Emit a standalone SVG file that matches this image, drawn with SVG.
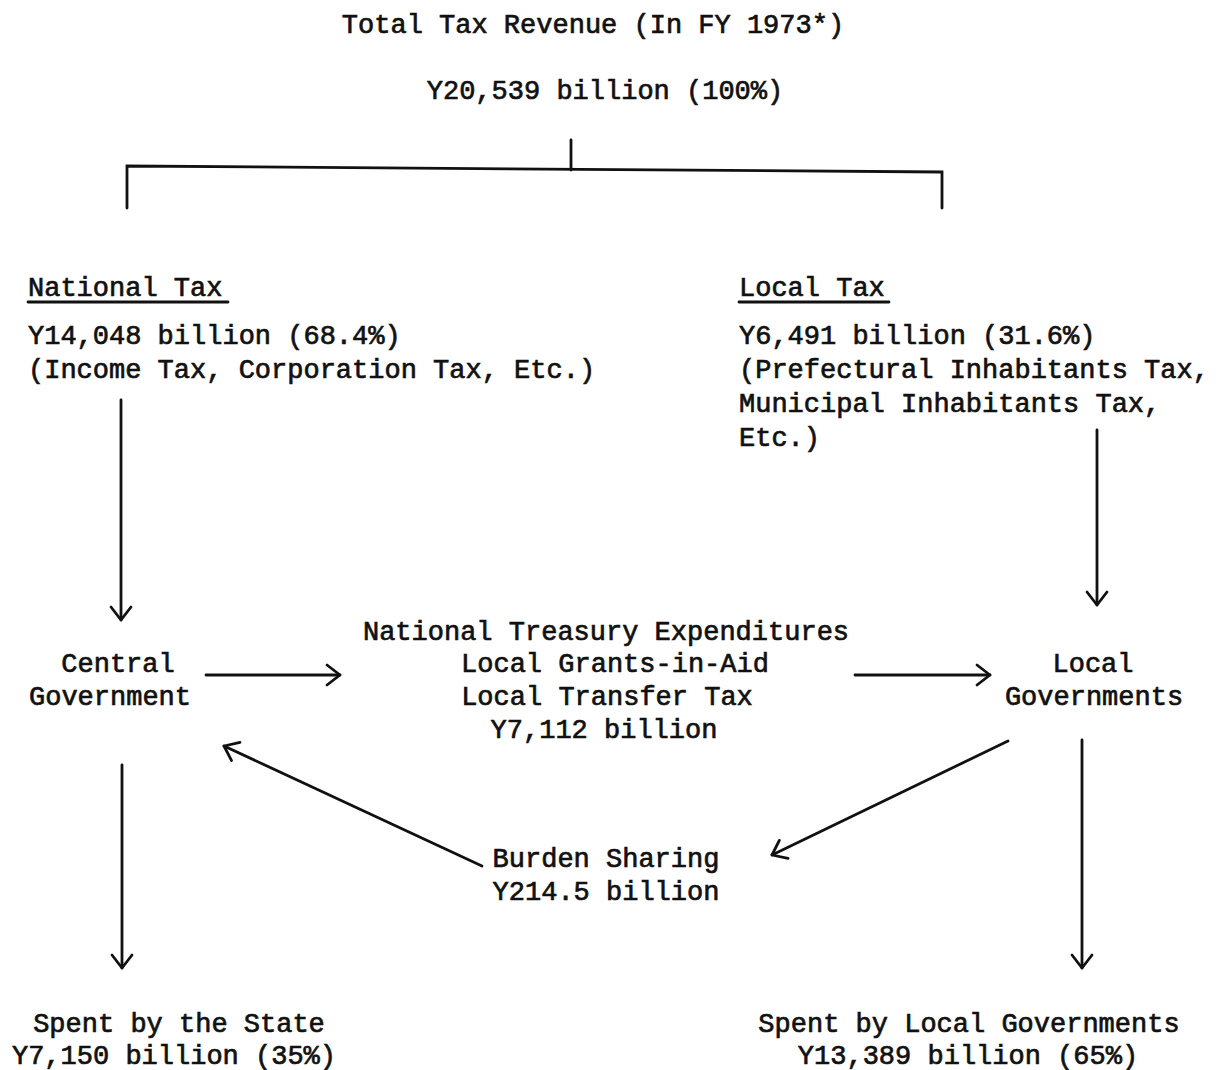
<svg xmlns="http://www.w3.org/2000/svg" width="1220" height="1070" viewBox="0 0 1220 1070">
<style>
text{font-family:"Liberation Mono","Courier New",monospace;font-size:27px;fill:#111;stroke:#111;stroke-width:0.7}
.c{text-anchor:middle}
.ln{stroke:#111;stroke-width:2.8;fill:none;stroke-linecap:round}
</style>
<defs>
<marker id="ah" viewBox="-16 -12 18 24" refX="0" refY="0" markerWidth="18" markerHeight="24" markerUnits="userSpaceOnUse" orient="auto">
<path d="M-13,-10 L0,0 L-13,10" fill="none" stroke="#111" stroke-width="2.8" stroke-linecap="round" stroke-linejoin="round"/>
</marker>
</defs>
<rect width="1220" height="1070" fill="#fff"/>
<g id="total">
<text x="593" y="33" class="c">Total Tax Revenue (In FY 1973*)</text>
<text x="605" y="99" class="c">Y20,539 billion (100%)</text>
</g>
<g id="national-tax">
<text x="28" y="296">National Tax</text>
<line x1="28" y1="302" x2="228" y2="302" class="ln" stroke-width="2.2"/>
<text x="28" y="344">Y14,048 billion (68.4%)</text>
<text x="28" y="378">(Income Tax, Corporation Tax, Etc.)</text>
</g>
<g id="local-tax">
<text x="739" y="296">Local Tax</text>
<line x1="739" y1="302" x2="889" y2="302" class="ln" stroke-width="2.2"/>
<text x="739" y="344">Y6,491 billion (31.6%)</text>
<text x="739" y="378">(Prefectural Inhabitants Tax,</text>
<text x="739" y="412">Municipal Inhabitants Tax,</text>
<text x="739" y="446">Etc.)</text>
</g>
<g id="central-government">
<text x="118" y="672" class="c">Central</text>
<text x="110" y="705" class="c">Government</text>
</g>
<g id="treasury">
<text x="606" y="640" class="c">National Treasury Expenditures</text>
<text x="615" y="672" class="c">Local Grants-in-Aid</text>
<text x="607" y="705" class="c">Local Transfer Tax</text>
<text x="604" y="738" class="c">Y7,112 billion</text>
</g>
<g id="local-governments">
<text x="1093" y="672" class="c">Local</text>
<text x="1094" y="705" class="c">Governments</text>
</g>
<g id="burden-sharing">
<text x="606" y="867" class="c">Burden Sharing</text>
<text x="606" y="900" class="c">Y214.5 billion</text>
</g>
<g id="spent-state">
<text x="179" y="1032" class="c">Spent by the State</text>
<text x="174" y="1064" class="c">Y7,150 billion (35%)</text>
</g>
<g id="spent-local">
<text x="969" y="1032" class="c">Spent by Local Governments</text>
<text x="968" y="1064" class="c">Y13,389 billion (65%)</text>
</g>
<g id="connectors">
<polyline points="127,208 127,166 942,172 942,208" class="ln"/>
<line x1="571" y1="140" x2="571" y2="170" class="ln"/>
<line x1="121" y1="400" x2="121" y2="620" class="ln" marker-end="url(#ah)"/>
<line x1="1097" y1="430" x2="1097" y2="605" class="ln" marker-end="url(#ah)"/>
<line x1="206" y1="675" x2="340" y2="675" class="ln" marker-end="url(#ah)"/>
<line x1="855" y1="675" x2="990" y2="675" class="ln" marker-end="url(#ah)"/>
<line x1="482" y1="866" x2="224" y2="746" class="ln" marker-end="url(#ah)"/>
<line x1="1008" y1="741" x2="772" y2="855" class="ln" marker-end="url(#ah)"/>
<line x1="122" y1="765" x2="122" y2="968" class="ln" marker-end="url(#ah)"/>
<line x1="1082" y1="740" x2="1082" y2="968" class="ln" marker-end="url(#ah)"/>
</g>
</svg>
